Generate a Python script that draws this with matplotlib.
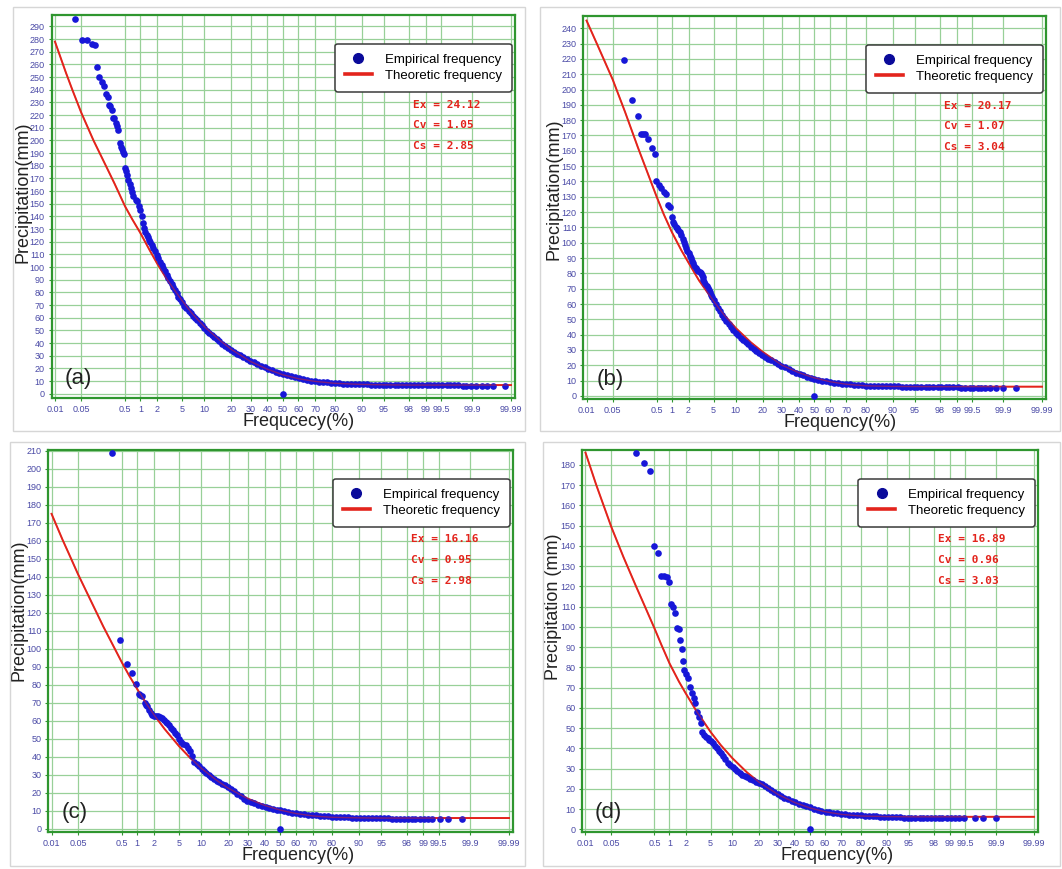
from statistics import NormalDist

import numpy as np
import matplotlib
matplotlib.use("Agg")
import matplotlib.pyplot as plt
from matplotlib.lines import Line2D
from matplotlib.patches import Rectangle
from matplotlib.ticker import FixedLocator, FixedFormatter

# probability axis ticks (percent)
tick_freq = [0.01, 0.05, 0.5, 1, 2, 5, 10, 20, 30, 40, 50, 60, 70, 80,
             90, 95, 98, 99, 99.5, 99.9, 99.99]
tick_text = ["0.01", "0.05", "0.5", "1", "2", "5", "10", "20", "30", "40",
             "50", "60", "70", "80", "90", "95", "98", "99", "99.5", "99.9",
             "99.99"]

# theoretic (fitted) curves, read at these frequencies
theo_freq = [0.01, 0.02, 0.03, 0.05, 0.1, 0.2, 0.3, 0.5, 0.7, 1, 1.5, 2, 3,
             5, 7, 10, 15, 20, 30, 40, 50, 60, 70, 80, 90, 95, 98, 99, 99.5,
             99.9, 99.99]
a_theo = [278, 253.5, 239.5, 222, 200, 179, 166, 148, 137.7, 127, 113, 103,
          89.5, 73.5, 63, 53, 42.5, 35, 25.4, 19.4, 15.0, 11.9, 9.8, 8.3,
          7.4, 7.1, 6.9, 6.9, 6.9, 6.9, 6.9]
b_theo = [245, 229, 219.2, 206.4, 185.4, 162, 148.3, 130.2, 118.5, 107, 95,
          87, 75.3, 62, 53, 44.3, 35, 28.7, 20, 15.2, 11.8, 9.3, 7.6, 6.6,
          6.2, 6.1, 6.05, 6.05, 6.05, 6.05, 6.05]
c_theo = [175, 160.6, 152.4, 141.6, 127.4, 112.4, 103.8, 92.4, 85.1, 77.6,
          69.1, 63.3, 55.4, 45.8, 39.7, 33.5, 26.9, 22.4, 16.6, 12.9, 10.3,
          8.4, 7.1, 6.3, 6.0, 5.9, 5.9, 5.9, 5.9, 5.9, 5.9]
d_theo = [186, 170, 161, 149.3, 134.5, 119.8, 111, 99.3, 90.9, 82, 73, 67,
          58.5, 48.1, 41.6, 35.1, 28, 23.3, 17.2, 13.3, 10.6, 8.7, 7.4, 6.6,
          6.3, 6.2, 6.2, 6.2, 6.2, 6.2, 6.2]

# empirical points: upper part (scattered), main band, sparse right tail
a_head_freq = [0.035, 0.051, 0.068, 0.090, 0.108, 0.122, 0.136, 0.16, 0.178,
               0.20, 0.212, 0.23, 0.242, 0.26, 0.28, 0.296, 0.32, 0.333,
               0.35, 0.39, 0.411, 0.44, 0.459, 0.48, 0.50, 0.514, 0.54,
               0.58, 0.63, 0.657, 0.70, 0.73, 0.81, 0.85, 0.94, 0.98, 1.06,
               1.10, 1.17, 1.22, 1.31, 1.37, 1.44, 1.52, 1.61, 1.72, 1.84,
               1.97, 2.10, 2.24, 2.39, 2.55, 2.71, 2.89, 3.07, 3.27, 3.47,
               3.68, 3.90, 4.14, 4.38, 4.65]
a_head_prec = [296, 279, 279, 276, 275, 258, 250, 246, 243, 237, 234, 228,
               227, 224, 218, 217.6, 214, 211, 208, 198, 195, 193, 190.5,
               189, 178, 175.5, 173, 169, 166, 162.4, 159, 155.8, 153, 151.8,
               148, 145.3, 140, 134.8, 130.8, 128, 125.5, 123.5, 121.6,
               119.6, 117.6, 115, 112.4, 109.7, 107.1, 104.4, 101.8, 99.2,
               96.6, 93.9, 91.3, 88.9, 86.6, 84.1, 81.6, 79.2, 76.8, 74.7]

b_head_freq = [0.097, 0.148, 0.20, 0.235, 0.26, 0.29, 0.33, 0.41, 0.46, 0.49,
               0.556, 0.63, 0.70, 0.79, 0.85, 0.93, 0.99, 1.05, 1.12, 1.18,
               1.25, 1.32, 1.39, 1.46, 1.58, 1.67, 1.76, 1.84, 1.92, 2.0,
               2.09, 2.18, 2.29, 2.4, 2.52, 2.65, 2.77, 2.9, 3.05, 3.19, 3.3,
               3.4, 3.5, 3.61, 3.78, 3.95, 4.13, 4.31, 4.48, 4.65, 4.82]
b_head_prec = [219, 193, 183, 171, 171, 171, 168, 162, 158, 140, 137.7,
               135.6, 133.4, 131.9, 124.7, 123.6, 116.6, 113.8, 112, 110.5,
               109.5, 108.4, 106.8, 105.1, 102.5, 100.7, 98.5, 96.4, 94.7, 93,
               91.5, 89.9, 88.2, 86.5, 85, 83.3, 82.3, 81.5, 80.8, 80.1, 78.8,
               77.5, 76, 74.6, 73.3, 72, 70.6, 69.2, 67.6, 66, 64.3]

c_head_freq = [0.305, 0.466, 0.635, 0.80, 0.95, 1.08, 1.15, 1.25, 1.38, 1.46,
               1.54, 1.65, 1.76, 1.88, 2.01, 2.18, 2.37, 2.57, 2.77, 2.95,
               3.13, 3.33, 3.53, 3.8, 4.07, 4.4, 4.73]
c_head_prec = [209, 104.8, 91.3, 86.3, 80.4, 74.6, 74.2, 73.9, 70, 69, 68.1,
               66, 64.1, 63.3, 62.8, 62.7, 62.6, 62, 61.3, 60.3, 59.4, 58.5,
               57.6, 56.2, 54.8, 53.4, 52]

d_head_freq = [0.195, 0.30, 0.40, 0.486, 0.597, 0.687, 0.789, 0.89, 0.99,
               1.06, 1.18, 1.27, 1.38, 1.52, 1.59, 1.70, 1.80, 1.87, 2.0,
               2.17, 2.35, 2.54, 2.71, 2.88, 3.07, 3.35, 3.56, 3.70, 4.02,
               4.27, 4.52, 4.8]
d_head_prec = [185.6, 181.1, 177, 139.8, 136.6, 125, 125, 124.7, 122.2,
               111.2, 109.9, 106.9, 99.2, 98.7, 93.5, 89, 83.1, 78.6, 76.5,
               74.5, 70.4, 67.1, 64.7, 62.2, 58.1, 55.3, 52.3, 48.2, 46.6,
               45.7, 44.9, 44.1]

band_freq = [5.0, 5.37, 5.76, 6.18, 6.62, 7.08, 7.56, 8.08, 8.69, 9.34,
             10.03, 10.75, 11.51, 12.30, 13.14, 14.01, 15.03, 16.11, 17.23,
             18.41, 19.77, 21.19, 22.66, 24.20, 25.95, 27.76, 29.63, 31.56,
             33.72, 35.94, 38.21, 40.52, 42.86, 45.22, 47.61, 50.0,
             52.6, 55.2, 57.7, 60.3, 62.7, 65.2, 67.5, 69.8, 72.1, 74.2, 76.3,
             78.2, 80.1, 81.9, 83.5, 85.1, 86.5, 87.9, 89.2, 90.3, 91.4, 92.4,
             93.3, 94.1, 94.8, 95.4, 96.0, 96.6, 97.0, 97.4, 97.8, 98.1, 98.4,
             98.6, 98.85, 99.04, 99.19]
a_band = [72.3, 69.6, 67.4, 65.2, 63.6, 61.5, 59.7, 58, 55.9, 54,
          52.2, 49.9, 48, 46.3, 44.6, 43, 41.3, 39.5, 37.7, 36.3,
          34.8, 33.2, 31.8, 30.3, 28.8, 27.4, 26.1, 24.8, 23.4, 22.1,
          20.8, 19.6, 18.5, 17.5, 16.5, 15.6,
          14.8, 14, 13.2, 12.5, 11.8, 11.1, 10.5, 10, 9.6, 9.3,
          9.0, 8.7, 8.4, 8.2, 8.0, 7.8, 7.7, 7.6, 7.5, 7.4,
          7.4, 7.3, 7.2, 7.1, 7.1, 7.0, 7.0, 7.0, 7.0, 6.9,
          6.9, 6.9, 6.9, 6.9, 6.8, 6.8, 6.8]
b_band = [62.5, 60, 57.5, 55.2, 53, 51, 49, 47, 45, 43,
          41.2, 39.5, 38, 36.5, 35, 33.6, 32.1, 30.6, 29.3, 28,
          26.8, 25.6, 24.4, 23.2, 22, 20.8, 19.7, 18.6, 17.4, 16.3,
          15.2, 14.3, 13.4, 12.6, 11.8, 11.1,
          10.5, 10, 9.5, 9.1, 8.7, 8.3, 8.0, 7.7, 7.5, 7.3,
          7.1, 7.0, 6.8, 6.7, 6.6, 6.5, 6.4, 6.3, 6.3, 6.2,
          6.2, 6.1, 6.1, 6.0, 6.0, 6.0, 6.0, 5.9, 5.9, 5.9,
          5.8, 5.8, 5.8, 5.7, 5.6, 5.6, 5.5]
c_band = [50, 48, 47.3, 46.6, 45, 43, 40.6, 37.2, 35.8, 34.6,
          33.1, 32, 30.9, 29.9, 28.8, 27.8, 26.7, 25.7, 24.9, 24,
          23, 22, 20.8, 19.5, 17.9, 16.6, 15.6, 14.8, 14, 13.3,
          12.6, 12, 11.3, 10.9, 10.6, 10.3,
          9.8, 9.3, 8.9, 8.6, 8.4, 8.1, 7.8, 7.6, 7.4, 7.2,
          7.0, 6.9, 6.7, 6.6, 6.4, 6.3, 6.2, 6.0, 5.9, 5.9,
          5.8, 5.8, 5.7, 5.7, 5.7, 5.7, 5.7, 5.6, 5.6, 5.5,
          5.4, 5.3, 5.2, 5.2, 5.2, 5.2, 5.2]
d_band = [43.5, 42.5, 41.4, 40, 38.8, 37.5, 36, 34.5, 33, 31.8,
          30.7, 29.6, 28.6, 27.7, 26.9, 26.3, 25.7, 25.1, 24.3, 23.6,
          22.9, 22.2, 21.4, 20.5, 19.5, 18.5, 17.5, 16.6, 15.7, 14.9,
          14.1, 13.4, 12.7, 12, 11.4, 10.9,
          10.3, 9.8, 9.3, 8.8, 8.5, 8.2, 8.0, 7.7, 7.5, 7.3,
          7.2, 7.1, 6.9, 6.8, 6.7, 6.5, 6.4, 6.3, 6.3, 6.2,
          6.0, 5.9, 5.9, 5.8, 5.8, 5.8, 5.7, 5.6, 5.5, 5.5,
          5.4, 5.4, 5.4, 5.4, 5.4, 5.4, 5.4]

a_tail_freq = [99.32, 99.44, 99.53, 99.62, 99.68, 99.74, 99.79, 99.83, 99.86,
               99.89, 99.92, 99.94, 99.955, 99.97, 99.985]
a_tail_prec = [6.8, 6.8, 6.7, 6.7, 6.7, 6.6, 6.6, 6.5, 6.5, 6.4, 6.3, 6.2,
               6.1, 6.0, 6.0]
b_tail_freq = [99.32, 99.44, 99.53, 99.62, 99.68, 99.74, 99.79, 99.85, 99.9,
               99.95]
b_tail_prec = [5.5, 5.5, 5.4, 5.4, 5.4, 5.4, 5.4, 5.4, 5.4, 5.4]
c_tail_freq = [99.32, 99.52, 99.68, 99.84]
c_tail_prec = [5.2, 5.2, 5.2, 5.2]
d_tail_freq = [99.32, 99.47, 99.70, 99.80, 99.90]
d_tail_prec = [5.4, 5.4, 5.4, 5.4, 5.4]

# odd zero value plotted at 50% in every panel
zero_freq = [50]
zero_prec = [0]

params = {
    "a": ["Ex = 24.12", "Cv = 1.05", "Cs = 2.85"],
    "b": ["Ex = 20.17", "Cv = 1.07", "Cs = 3.04"],
    "c": ["Ex = 16.16", "Cv = 0.95", "Cs = 2.98"],
    "d": ["Ex = 16.89", "Cv = 0.96", "Cs = 3.03"],
}

_nd = NormalDist()
_ppf = np.vectorize(lambda q: _nd.inv_cdf(min(max(q, 1e-12), 1 - 1e-12)),
                    otypes=[float])
_cdf = np.vectorize(_nd.cdf, otypes=[float])


def prob_fwd(p):
    return _ppf(np.asarray(p, dtype=float) / 100.0)


def prob_inv(z):
    return 100.0 * _cdf(np.asarray(z, dtype=float))


W, H = 1062, 869
TICK_COLOR = "#4a4aa6"
GRID_COLOR = "#98d098"
SPINE_COLOR = "#2f962f"
RED = "#e3241c"
BLUE = "#1717d8"

plt.rcParams["font.family"] = ["Liberation Sans", "DejaVu Sans"]

fig = plt.figure(figsize=(W / 100, H / 100), dpi=100)


def px_axes(left, top, right, bottom):
    return fig.add_axes([left / W, 1 - bottom / H, (right - left) / W,
                         (bottom - top) / H])


def frame(left, top, right, bottom):
    fig.add_artist(Rectangle((left / W, 1 - bottom / H), (right - left) / W,
                             (bottom - top) / H, transform=fig.transFigure,
                             fill=False, ec="#d6d6d6", lw=1))


def draw_panel(ax, head_f, head_p, band_p, tail_f, tail_p, theo_p, ymax,
               ylim, letter, xlab, ylab, xlab_x, ylab_y, par):
    ax.set_xscale("function", functions=(prob_fwd, prob_inv))
    ax.set_xlim(0.0081, 99.9923)
    ax.set_ylim(*ylim)

    ax.xaxis.set_major_locator(FixedLocator(tick_freq))
    ax.xaxis.set_major_formatter(FixedFormatter(tick_text))
    ax.xaxis.set_minor_locator(FixedLocator([]))
    ax.set_yticks(np.arange(0, ymax + 1, 10))
    ax.grid(True, color=GRID_COLOR, lw=0.9)
    ax.set_axisbelow(True)
    ax.tick_params(labelsize=6.5, labelcolor=TICK_COLOR, color=SPINE_COLOR,
                   length=2.5, width=0.8, pad=2.5)
    for sp in ax.spines.values():
        sp.set_color(SPINE_COLOR)
        sp.set_linewidth(1.6)

    emp_f = list(head_f) + list(band_freq) + list(tail_f) + zero_freq
    emp_p = list(head_p) + list(band_p) + list(tail_p) + zero_prec

    ax.plot(theo_freq, theo_p, color=RED, lw=1.4, zorder=2)
    ax.plot(emp_f, emp_p, "o", ms=4.8, color=BLUE, mew=0, zorder=3,
            clip_on=False)
    ax.plot(theo_freq, theo_p, color=RED, lw=1.0, alpha=0.5, zorder=4)

    handles = [Line2D([], [], ls="none", marker="o", ms=7, color="#0a0a9a"),
               Line2D([], [], color=RED, lw=2.6)]
    leg = ax.legend(handles, ["Empirical frequency", "Theoretic frequency"],
                    loc="upper right", bbox_to_anchor=(0.993, 0.925),
                    fontsize=9.5, frameon=True, fancybox=True,
                    handlelength=2.0, handletextpad=1.0, borderpad=0.75,
                    labelspacing=0.3, borderaxespad=0)
    leg.get_frame().set_edgecolor("#3a3a3a")
    leg.get_frame().set_linewidth(1.1)
    leg.get_frame().set_alpha(1)

    for i, s in enumerate(par):
        ax.text(0.78, 0.766 - i * 0.054, s, transform=ax.transAxes,
                color=RED, fontsize=8, fontweight="bold",
                family="DejaVu Sans Mono", va="center", ha="left")

    ax.text(0.028, 0.05, letter, transform=ax.transAxes, fontsize=16,
            va="center", ha="left", color="#222222")
    ax.text(xlab_x, -0.062, xlab, transform=ax.transAxes, fontsize=13,
            ha="center", va="center", color="#222222")
    ax.text(-0.063, ylab_y, ylab, transform=ax.transAxes, fontsize=13,
            rotation=90, ha="center", va="center", color="#222222")


frame(13, 7, 525, 431)
frame(540, 7, 1060, 431)
frame(10, 442, 525, 866)
frame(543, 442, 1060, 866)

ax_a = px_axes(51.7, 15, 515, 398)
ax_b = px_axes(583.3, 16, 1046, 399)
ax_c = px_axes(48.3, 450, 513, 831.7)
ax_d = px_axes(582.3, 450, 1038, 832)

draw_panel(ax_a, a_head_freq, a_head_prec, a_band, a_tail_freq, a_tail_prec,
           a_theo, 290, (-3.3, 299), "(a)", "Frequcecy(%)",
           "Precipitation(mm)", 0.532, 0.536, params["a"])
draw_panel(ax_b, b_head_freq, b_head_prec, b_band, b_tail_freq, b_tail_prec,
           b_theo, 240, (-2, 248), "(b)", "Frequency(%)",
           "Precipitation(mm)", 0.555, 0.548, params["b"])
draw_panel(ax_c, c_head_freq, c_head_prec, c_band, c_tail_freq, c_tail_prec,
           c_theo, 210, (-1.7, 210.5), "(c)", "Frequency(%)",
           "Precipitation(mm)", 0.537, 0.579, params["c"])
draw_panel(ax_d, d_head_freq, d_head_prec, d_band, d_tail_freq, d_tail_prec,
           d_theo, 180, (-1.3, 187.3), "(d)", "Frequency(%)",
           "Precipitation (mm)", 0.56, 0.59, params["d"])

fig.savefig("out.png", dpi=100)
